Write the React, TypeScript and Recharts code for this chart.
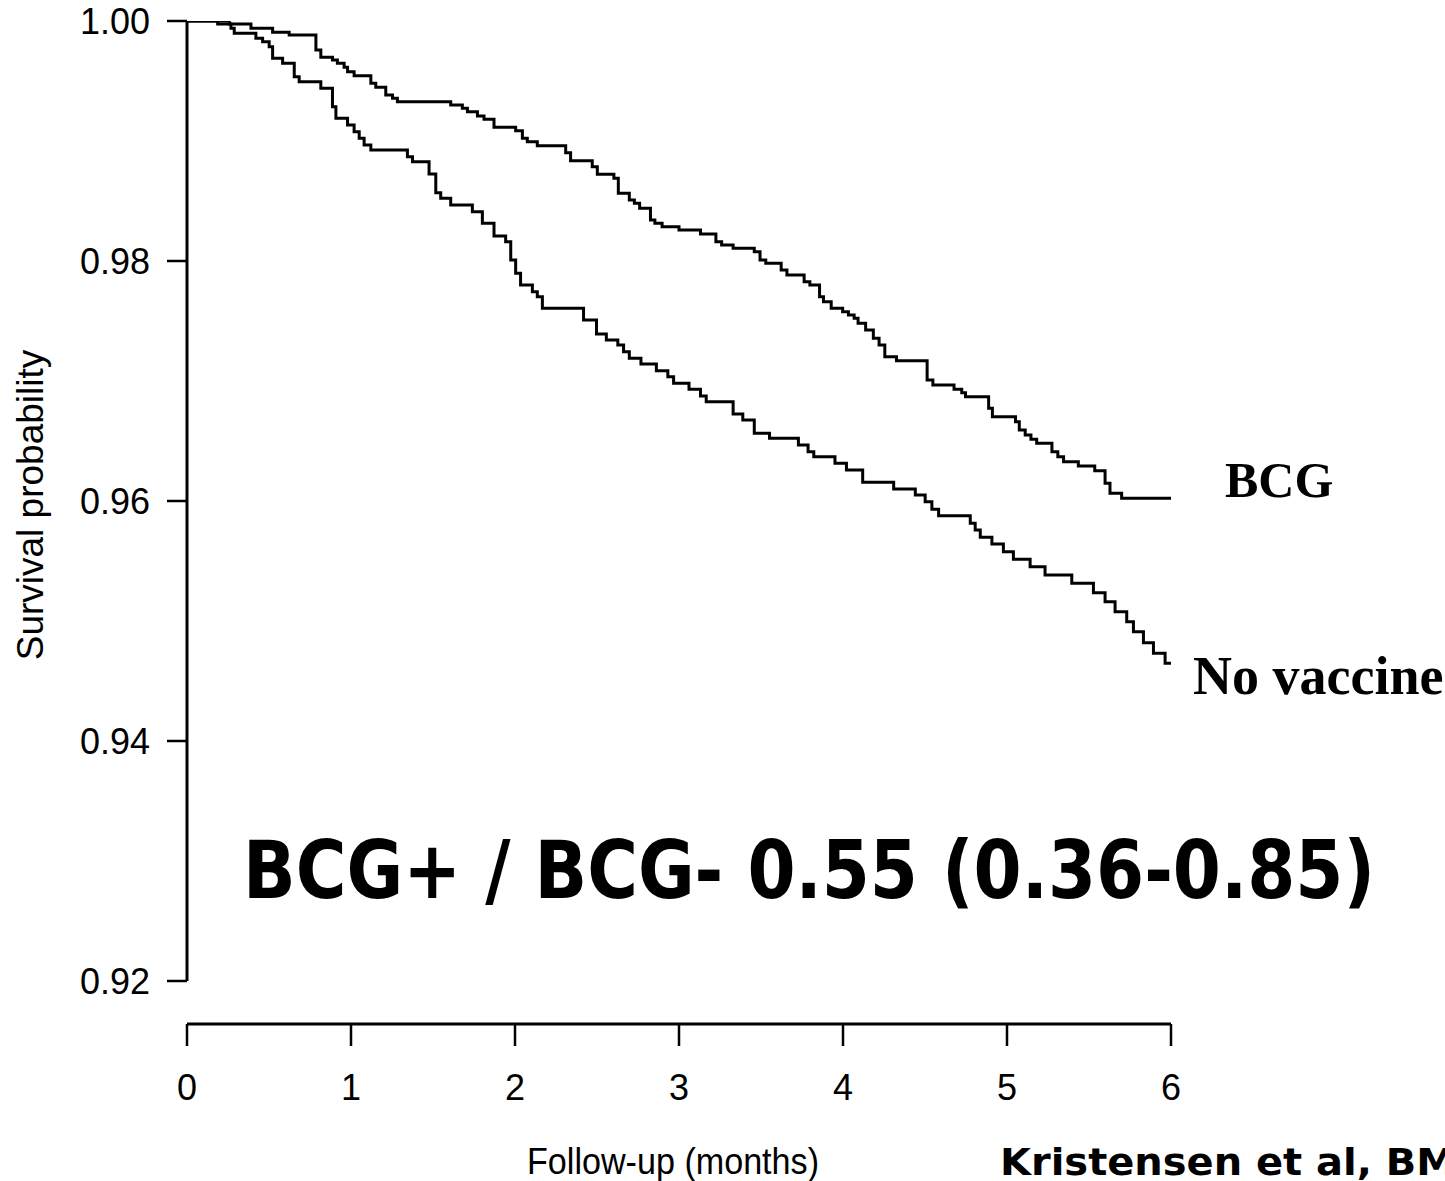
import React from 'react';
import { LineChart, Line, XAxis, YAxis, ReferenceLine } from 'recharts';

// Follow-up time (months) at which each step occurs, and survival after the step
const bcgTimes = [
  0, 0.258, 0.39, 0.522, 0.623, 0.786, 0.816, 0.887, 0.917, 0.958, 0.979, 1.019,
  1.121, 1.151, 1.212, 1.253, 1.283, 1.608, 1.679, 1.71, 1.771, 1.811, 1.872, 2.004,
  2.045, 2.075, 2.136, 2.309, 2.339, 2.471, 2.502, 2.603, 2.63, 2.697, 2.728, 2.76,
  2.826, 2.853, 2.897, 3.0, 3.131, 3.225, 3.26, 3.33, 3.459, 3.494, 3.529, 3.623,
  3.658, 3.763, 3.798, 3.857, 3.881, 3.928, 3.998, 4.033, 4.068, 4.092, 4.138, 4.185,
  4.22, 4.255, 4.326, 4.513, 4.548, 4.677, 4.724, 4.747, 4.888, 4.911, 5.052, 5.075,
  5.111, 5.146, 5.181, 5.274, 5.31, 5.345, 5.435, 5.535, 5.598, 5.628, 5.699, 6.0,
];
const bcgSurvival = [
  1.0, 0.99975, 0.99939, 0.99906, 0.99883, 0.99758, 0.99698, 0.99675, 0.99648, 0.99614, 0.99578, 0.99544,
  0.99481, 0.99448, 0.99383, 0.99356, 0.99328, 0.993, 0.99273, 0.99244, 0.99208, 0.99181, 0.99114, 0.99086,
  0.99023, 0.98994, 0.98961, 0.98903, 0.98836, 0.98786, 0.98723, 0.98689, 0.98564, 0.98508, 0.98481, 0.98439,
  0.98342, 0.98314, 0.98286, 0.98258, 0.98225, 0.98161, 0.98133, 0.98106, 0.98078, 0.98008, 0.97981, 0.97925,
  0.97883, 0.97828, 0.978, 0.97703, 0.97661, 0.97606, 0.97578, 0.9755, 0.97523, 0.97481, 0.97425, 0.97356,
  0.973, 0.97203, 0.97169, 0.97008, 0.96967, 0.96931, 0.96903, 0.96869, 0.96773, 0.96703, 0.96661, 0.96592,
  0.9655, 0.96514, 0.96481, 0.96411, 0.96369, 0.96328, 0.96292, 0.96253, 0.96148, 0.96064, 0.96023, 0.96023,
];

const noVaccineTimes = [
  0, 0.187, 0.268, 0.288, 0.42, 0.461, 0.501, 0.522, 0.583, 0.654, 0.684, 0.816,
  0.887, 0.908, 0.979, 1.019, 1.05, 1.08, 1.121, 1.344, 1.375, 1.476, 1.517, 1.547,
  1.608, 1.74, 1.801, 1.872, 1.943, 1.974, 2.004, 2.034, 2.106, 2.136, 2.167, 2.418,
  2.497, 2.557, 2.627, 2.662, 2.697, 2.768, 2.862, 2.932, 2.967, 3.061, 3.131, 3.166,
  3.33, 3.389, 3.459, 3.552, 3.728, 3.787, 3.822, 3.951, 4.021, 4.12, 4.309, 4.441,
  4.501, 4.542, 4.583, 4.776, 4.806, 4.837, 4.908, 4.978, 5.039, 5.141, 5.232, 5.395,
  5.527, 5.598, 5.659, 5.73, 5.771, 5.832, 5.893, 5.964, 6.0,
];
const noVaccineSurvival = [
  1.0, 0.99975, 0.99939, 0.99898, 0.99856, 0.99828, 0.99786, 0.99689, 0.99648, 0.99536, 0.99494, 0.99439,
  0.99286, 0.99189, 0.99133, 0.99078, 0.99023, 0.98967, 0.98925, 0.98869, 0.98828, 0.98725, 0.98569, 0.98523,
  0.98467, 0.98411, 0.98314, 0.98208, 0.98161, 0.98008, 0.97898, 0.978, 0.97744, 0.97703, 0.97606, 0.97508,
  0.97392, 0.97342, 0.973, 0.97244, 0.97189, 0.97142, 0.97086, 0.97036, 0.96981, 0.96931, 0.96875, 0.96828,
  0.96725, 0.96675, 0.96564, 0.96523, 0.96467, 0.96411, 0.96369, 0.96314, 0.96258, 0.96156, 0.961, 0.9605,
  0.95994, 0.95931, 0.95878, 0.95814, 0.95758, 0.95698, 0.95642, 0.95578, 0.95514, 0.95453, 0.95383, 0.95314,
  0.95236, 0.95161, 0.95078, 0.94994, 0.94911, 0.94819, 0.94731, 0.94648, 0.94648,
];

const xTicks = [0, 1, 2, 3, 4, 5, 6];
const yTicks = [0.92, 0.94, 0.96, 0.98, 1.0];

const seriesLabels = { bcg: 'BCG', noVaccine: 'No vaccine' };
const xAxisTitle = 'Follow-up (months)';
const yAxisTitle = 'Survival probability';
const ratioText = 'BCG+ / BCG- 0.55 (0.36-0.85)';
const citation = 'Kristensen et al, BMJ 2000';

const toSeries = (ts: number[], ss: number[]) => ts.map((t, i) => ({ t, s: ss[i] }));
const bcgData = toSeries(bcgTimes, bcgSurvival);
const noVaccineData = toSeries(noVaccineTimes, noVaccineSurvival);

const W = 1445;
const H = 1181;
const sans = '"Liberation Sans", Arial, sans-serif';
const serif = '"Liberation Serif", "Times New Roman", serif';
const verdana = '"DejaVu Sans", Verdana, sans-serif';

export default function App() {
  return (
    <div style={{ position: 'absolute', left: 0, top: 0, width: W, height: H, overflow: 'hidden', background: '#fff' }}>
      <LineChart width={W} height={H} margin={{ top: 21, right: 274, bottom: 0, left: 0 }}>
        <XAxis
          dataKey="t"
          type="number"
          domain={[0, 6]}
          ticks={xTicks}
          allowDataOverflow
          height={157}
          tickSize={22}
          tickMargin={28}
          axisLine={{ stroke: '#000', strokeWidth: 3 }}
          tickLine={{ stroke: '#000', strokeWidth: 2.5 }}
          tick={{ fill: '#000', fontSize: 36, fontFamily: sans }}
        />
        <YAxis
          type="number"
          domain={[0.92, 1.0]}
          ticks={yTicks}
          allowDataOverflow
          width={187}
          padding={{ top: 0, bottom: 43 }}
          tickSize={20}
          tickMargin={17}
          axisLine={false}
          tickLine={{ stroke: '#000', strokeWidth: 2.5 }}
          tick={{ fill: '#000', fontSize: 36, fontFamily: sans }}
          tickFormatter={(v: number) => v.toFixed(2)}
        />
        <ReferenceLine
          segment={[{ x: 0, y: 0.92 }, { x: 0, y: 1.0 }]}
          stroke="#000"
          strokeWidth={3}
          ifOverflow="visible"
        />
        <Line
          data={bcgData}
          dataKey="s"
          type="stepAfter"
          stroke="#000"
          strokeWidth={3}
          dot={false}
          activeDot={false}
          isAnimationActive={false}
        />
        <Line
          data={noVaccineData}
          dataKey="s"
          type="stepAfter"
          stroke="#000"
          strokeWidth={3}
          dot={false}
          activeDot={false}
          isAnimationActive={false}
        />
      </LineChart>
      <svg width={W} height={H} style={{ position: 'absolute', left: 0, top: 0, pointerEvents: 'none' }}>
        <text
          x={43}
          y={505}
          transform="rotate(-90 43 505)"
          textAnchor="middle"
          fontFamily={sans}
          fontSize={37}
          fill="#000"
        >
          {yAxisTitle}
        </text>
        <text x={673} y={1174} textAnchor="middle" fontFamily={sans} fontSize={36} fill="#000" textLength={292} lengthAdjust="spacingAndGlyphs">
          {xAxisTitle}
        </text>
        <text x={1000} y={1175} fontFamily={verdana} fontWeight="bold" fontSize={38} fill="#000" textLength={596} lengthAdjust="spacingAndGlyphs">
          {citation}
        </text>
        <text x={243} y={898} fontFamily={verdana} fontWeight="bold" fontSize={80} fill="#000" textLength={1132} lengthAdjust="spacingAndGlyphs">
          {ratioText}
        </text>
        <text x={1225} y={497} fontFamily={serif} fontWeight="bold" fontSize={50} fill="#000">
          {seriesLabels.bcg}
        </text>
        <text x={1193} y={694} fontFamily={serif} fontWeight="bold" fontSize={54} fill="#000">
          {seriesLabels.noVaccine}
        </text>
      </svg>
    </div>
  );
}
